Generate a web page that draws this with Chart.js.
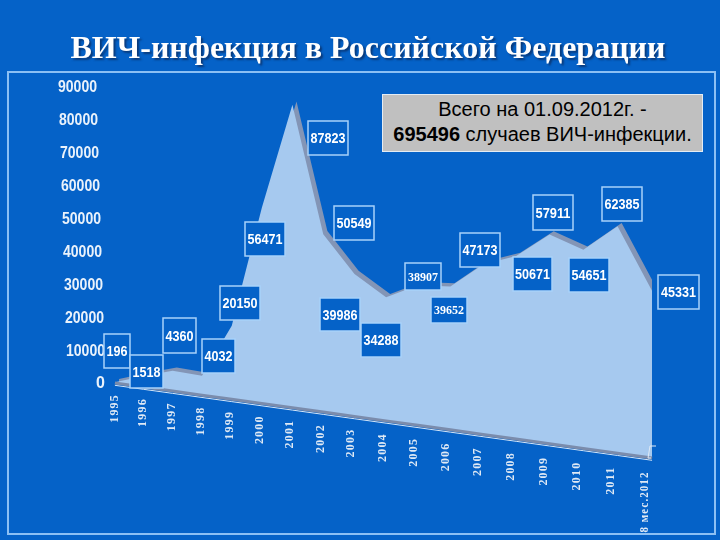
<!DOCTYPE html>
<html>
<head>
<meta charset="utf-8">
<script src="https://cdn.jsdelivr.net/npm/chart.js@4"></script>
<style>
  html, body { margin: 0; padding: 0; background: #0562c8; }
  #wrap { position: relative; width: 720px; height: 540px; overflow: hidden; }
  #total {
    position: absolute; left: 382px; top: 94px; width: 319px; height: 54px;
    background: #c0c0c0; border: 1px solid #e4ecf4; color: #000;
    font: 20px/25px "Liberation Sans", sans-serif; text-align: center; padding-top: 2px;
  }
</style>
</head>
<body>
<div id="wrap">
  <canvas id="chart" width="720" height="540"></canvas>
  <div id="total">Всего на 01.09.2012г. -<br><b>695496</b> случаев ВИЧ-инфекции.</div>
</div>
<script>
// data
const years = ["1995", "1996", "1997", "1998", "1999", "2000", "2001", "2002", "2003",
  "2004", "2005", "2006", "2007", "2008", "2009", "2010", "2011", "8 мес.2012"];
const values = [196, 1518, 4360, 4032, 20150, 56471, 87823, 50549, 39986,
  34288, 38907, 39652, 47173, 50671, 57911, 54651, 62385, 45331];
const yTicks = [0, 10000, 20000, 30000, 40000, 50000, 60000, 70000, 80000, 90000];

// label boxes, same order as values: left, top, width, height in px
const boxes = [
  [104, 334, 26, 34], [130, 355, 33, 33], [163, 318, 33, 35], [202, 339, 33, 34],
  [220, 286, 40, 34], [245, 222, 40, 34], [308, 121, 40, 34], [334, 206, 40, 34],
  [320, 298, 40, 33], [361, 323, 40, 34], [405, 263, 36, 27], [431, 297, 36, 26],
  [460, 233, 40, 34], [513, 257, 39, 34], [533, 195, 40, 35], [569, 258, 40, 34],
  [602, 187, 40, 34], [658, 275, 41, 34]
];
const serifBoxes = ["38907", "39652"];

// the picture is a tilted 3d area, so the years get wider to the right,
// the floor falls away under zero and the heights grow a bit
const floorDrop = 22800;
function depth(i) { return i - 0.0058 * i * (17 - i); }
function floorAt(i) { return -floorDrop * depth(i) / 17; }
function topAt(i) {
  const lift = i === 0 ? 0 : 1800;
  return floorAt(i) + lift + values[i] * (1 + 0.0048 * i);
}

const floorLine = values.map((v, i) => ({ x: depth(i), y: floorAt(i) }));
const floorEdge = values.map((v, i) => ({ x: depth(i), y: floorAt(i) - 700 }));
const surface = values.map((v, i) => ({ x: depth(i), y: topAt(i) }));
const wall = values.map((v, i) => ({ x: depth(i) + 0.13, y: topAt(i) + 1000 }));

const SANS = '"Liberation Sans", sans-serif';
const SERIF = '"Liberation Serif", serif';

// frame, title shadow, boxes, tick labels
const decorations = {
  id: "decorations",
  beforeDraw(chart) {
    const ctx = chart.ctx;
    ctx.strokeStyle = "#8cc0f4";
    ctx.lineWidth = 2;
    ctx.strokeRect(8, 72, 707, 462);
    ctx.shadowColor = "#0a3a7a";
    ctx.shadowOffsetX = 2;
    ctx.shadowOffsetY = 2;
    ctx.shadowBlur = 2;
  },
  beforeDatasetsDraw(chart) {
    const ctx = chart.ctx;
    ctx.shadowColor = "transparent";
    ctx.shadowOffsetX = 0;
    ctx.shadowOffsetY = 0;
    ctx.shadowBlur = 0;
  },
  afterDatasetsDraw(chart) {
    const ctx = chart.ctx;
    const xs = chart.scales.x;
    const ys = chart.scales.y;

    // y axis labels lean to the left as they go up
    ctx.fillStyle = "#eaf2fb";
    ctx.font = "bold 16px " + SANS;
    ctx.textAlign = "right";
    ctx.textBaseline = "middle";
    yTicks.forEach(t => {
      const right = t === 0 ? 105 : 106 - t / 10000;
      ctx.fillText(String(t), right, ys.getPixelForValue(t) + 1, 39);
    });

    // years hang under the floor line
    ctx.fillStyle = "#dfe9f5";
    ctx.font = "bold 12px " + SERIF;
    ctx.letterSpacing = "1.2px";
    years.forEach((year, i) => {
      const x = xs.getPixelForValue(depth(i)) - 0.4 * i;
      const y = ys.getPixelForValue(floorAt(i)) + 11 + 0.15 * i;
      ctx.save();
      ctx.translate(x, y);
      ctx.rotate(-Math.PI / 2);
      ctx.textAlign = "right";
      ctx.fillText(year, 0, 0, 61);
      ctx.restore();
    });
    ctx.letterSpacing = "0px";

    // small corner ticks at the end of the floor
    ctx.strokeStyle = "#dfe9f5";
    ctx.lineWidth = 1;
    ctx.beginPath();
    ctx.moveTo(656, 446);
    ctx.lineTo(650, 446);
    ctx.lineTo(648, 458);
    ctx.lineTo(651, 458);
    ctx.stroke();

    // value boxes
    ctx.textAlign = "center";
    values.forEach((v, i) => {
      const b = boxes[i];
      const text = String(v);
      const serif = serifBoxes.includes(text);
      ctx.fillStyle = "#0562c8";
      ctx.fillRect(b[0], b[1], b[2], b[3]);
      ctx.strokeStyle = "#a8d2fa";
      ctx.lineWidth = 1.5;
      ctx.strokeRect(b[0], b[1], b[2], b[3]);
      ctx.fillStyle = "#ffffff";
      ctx.font = serif ? "bold 12px " + SERIF : "bold 15px " + SANS;
      ctx.fillText(text, b[0] + b[2] / 2, b[1] + b[3] / 2 + 1, text.length * 7);
    });
  }
};

new Chart(document.getElementById("chart"), {
  type: "line",
  data: {
    datasets: [
      { label: "floor", data: floorLine, borderColor: "#7b8cac", borderWidth: 3, pointRadius: 0, order: 1 },
      { label: "Случаи ВИЧ-инфекции", data: surface, borderWidth: 0, borderColor: "transparent",
        backgroundColor: "#a6c9ef", fill: 0, pointRadius: 0, order: 2 },
      { label: "wall", data: wall, borderWidth: 0, borderColor: "transparent",
        backgroundColor: "#8395b6", fill: 0, pointRadius: 0, order: 3 },
      { label: "edge", data: floorEdge, borderColor: "#d5e6f8", borderWidth: 1, pointRadius: 0, order: 4 }
    ]
  },
  options: {
    responsive: false,
    animation: false,
    clip: false,
    layout: { padding: { left: 16, right: 0, bottom: 82, top: 0 } },
    plugins: {
      legend: { display: false },
      tooltip: { enabled: false },
      title: {
        display: true,
        text: "ВИЧ-инфекция в Российской Федерации",
        color: "#ffffff",
        font: { family: SERIF, size: 32, weight: "bold", lineHeight: 1.2 },
        padding: { top: 31, bottom: 17.6 }
      }
    },
    scales: {
      x: { type: "linear", display: false, min: -3.13, max: 19.15 },
      y: { type: "linear", display: false, min: -floorDrop, max: 90000 }
    }
  },
  plugins: [decorations]
});
</script>
</body>
</html>
